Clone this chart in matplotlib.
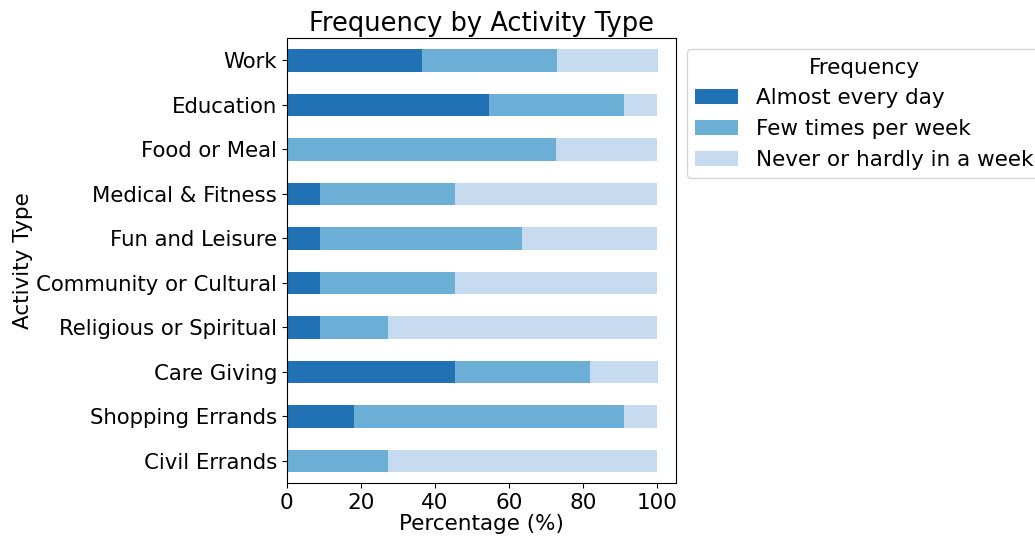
import matplotlib
matplotlib.use("Agg")
import matplotlib.pyplot as plt
import numpy as np

categories = ["Work", "Education", "Food or Meal", "Medical & Fitness", "Fun and Leisure",
              "Community or Cultural", "Religious or Spiritual", "Care Giving",
              "Shopping Errands", "Civil Errands"]
almost_every_day = [36.4, 54.5, 0.0, 9.1, 9.1, 9.1, 9.1, 45.5, 18.2, 0.0]
few_times_per_week = [36.4, 36.4, 72.7, 36.4, 54.5, 36.4, 18.2, 36.4, 72.7, 27.3]
never_or_hardly = [27.3, 9.1, 27.3, 54.5, 36.4, 54.5, 72.7, 18.2, 9.1, 72.7]
series_labels = ["Almost every day", "Few times per week", "Never or hardly in a week"]
colors = ["#2171b5", "#6baed6", "#c6dbef"]

fig = plt.figure(figsize=(10.35, 5.38), dpi=100)
ax = fig.add_axes([0.277, 0.102, 0.376, 0.827])

y = np.arange(len(categories))[::-1]
left = np.zeros(len(categories))
for vals, lab, c in zip([almost_every_day, few_times_per_week, never_or_hardly], series_labels, colors):
    ax.barh(y, vals, left=left, height=0.5, color=c, label=lab)
    left += np.array(vals)

ax.set_yticks(y)
ax.set_yticklabels(categories, fontsize=15.3)
ax.tick_params(axis="x", labelsize=15.5)
ax.set_xlim(0, 105)
ax.set_ylim(-0.5, len(categories) - 0.5)
ax.set_xlabel("Percentage (%)", fontsize=15.5, labelpad=1)
ax.set_ylabel("Activity Type", fontsize=15.5, labelpad=2)
ax.set_title("Frequency by Activity Type", fontsize=18.5, pad=5)
leg = ax.legend(title="Frequency", loc="upper left", bbox_to_anchor=(1.0, 1.0),
                fontsize=15.5, title_fontsize=15.5)
fig.savefig("out.png", dpi=100)
